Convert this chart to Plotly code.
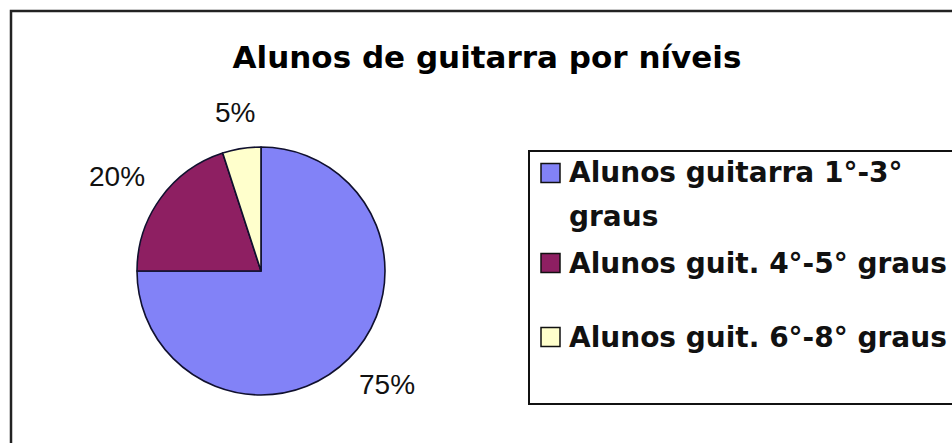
import math
import plotly.graph_objects as go

# --- data -------------------------------------------------------------
categories = [
    "Alunos guitarra 1°-3° graus",
    "Alunos guit. 4°-5° graus",
    "Alunos guit. 6°-8° graus",
]
legend_lines = [
    ["Alunos guitarra 1°-3°", "graus"],
    ["Alunos guit. 4°-5° graus"],
    ["Alunos guit. 6°-8° graus"],
]
shares = [75, 20, 5]
colors = ["#8282F7", "#8E1F62", "#FFFFCC"]
title_text = "Alunos de guitarra por níveis"

# --- page geometry (pixels) ------------------------------------------
W, H = 952, 443


def px(x):
    return x / W


def py(y):
    return 1 - y / H


cx, cy, r = 261, 271, 124          # pie centre and radius
legend_box = (529, 151, 990, 404)  # x0, y0, x1, y1
legend_rows = [173, 263, 337]      # first-line centre of each entry
legend_line_gap = 43
sym = 19

fig = go.Figure(
    go.Pie(
        labels=categories,
        values=shares,
        sort=False,
        direction="clockwise",
        rotation=0,
        marker=dict(colors=colors, line=dict(color="#10102E", width=1.6)),
        textinfo="none",
        showlegend=False,
        domain=dict(x=[px(cx - r), px(cx + r)], y=[py(cy + r), py(cy - r)]),
    )
)

annotations = []
shapes = []

# percentage labels just outside each slice, at its mid-angle
total = sum(shares)
start = 0.0
for v in shares:
    mid = math.radians((start + v / 2) / total * 360)
    start += v
    ux, uy = math.sin(mid), -math.cos(mid)
    text = f"{round(v / total * 100)}%"
    w, h = 19 * len(text), 24
    ax = cx + (r + 26) * ux + w / 2 * ux
    ay = cy + (r + 24) * uy + h / 2 * uy
    annotations.append(dict(
        x=px(ax), y=py(ay), xref="paper", yref="paper",
        text=text, showarrow=False, xanchor="center", yanchor="middle",
        font=dict(family="Liberation Sans, Arial", size=28, color="#111111"),
    ))

# legend frame, colour keys and entry texts
shapes.append(dict(
    type="rect", xref="paper", yref="paper",
    x0=px(legend_box[0]), x1=px(legend_box[2]),
    y0=py(legend_box[3]), y1=py(legend_box[1]),
    line=dict(color="#111111", width=2), fillcolor="rgba(0,0,0,0)",
))
for row_y, lines, col in zip(legend_rows, legend_lines, colors):
    shapes.append(dict(
        type="rect", xref="paper", yref="paper",
        x0=px(541), x1=px(541 + sym),
        y0=py(row_y + sym / 2), y1=py(row_y - sym / 2),
        line=dict(color="#111111", width=1.5), fillcolor=col,
    ))
    for k, line in enumerate(lines):
        annotations.append(dict(
            x=px(567), y=py(row_y + k * legend_line_gap),
            xref="paper", yref="paper", text=line, showarrow=False,
            xanchor="left", yanchor="middle",
            font=dict(family="DejaVu Sans", size=28, color="#111111",
                      weight="bold"),
        ))

# outer chart frame
shapes.append(dict(
    type="rect", xref="paper", yref="paper",
    x0=px(11), x1=px(1000), y0=py(500), y1=py(11),
    line=dict(color="#222222", width=2.5), fillcolor="rgba(0,0,0,0)",
))

fig.update_layout(
    width=W, height=H,
    margin=dict(l=0, r=0, t=0, b=0),
    paper_bgcolor="white", plot_bgcolor="white",
    title=dict(
        text=title_text, x=px(487), y=py(57), xref="paper", yref="paper",
        xanchor="center", yanchor="middle",
        font=dict(family="DejaVu Sans", size=31, color="#000000",
                  weight="bold"),
    ),
    annotations=annotations,
    shapes=shapes,
)

fig.write_html("out.html")
